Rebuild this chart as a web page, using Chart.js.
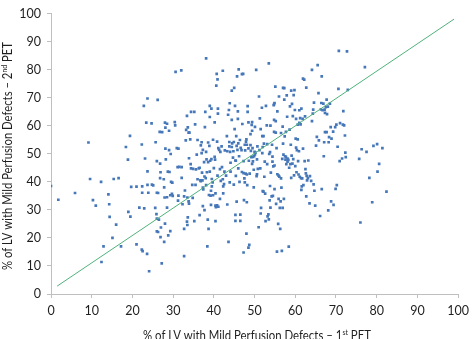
<!DOCTYPE html>
<html>
<head>
<meta charset="utf-8">
<script src="https://cdn.jsdelivr.net/npm/chart.js@4.4.1/dist/chart.umd.min.js"></script>
<style>
html,body{margin:0;padding:0;background:#fff;}
#wrap{width:474px;height:339px;position:relative;}
</style>
</head>
<body>
<div id="wrap"><canvas id="c" width="474" height="339"></canvas></div>
<script>
// % of LV with mild perfusion defects: [1st PET, 2nd PET]
const petPairs = [
[0,38.5],[1.8,33.6],[5.9,36],[9.2,54],[9.6,41],[10.3,33.5],[11,31.5],[12.3,40],[12.4,11.4],[12.9,17],
[14.1,35.5],[14.3,32],[14.4,27.5],[15.1,20],[15.4,41],[16,24.7],[16.6,41.3],[17.2,17],[18.4,52.4],[18.9,47.9],
[19,29.3],[19.4,56.4],[19.5,27.6],[19.7,38.2],[21,38.3],[21,17.7],[21.7,30.8],[22.3,15.8],[22.3,53.3],[22.4,38.4],
[22.4,36.1],[22.5,15.3],[22.8,67.1],[22.9,30.5],[23.1,48.3],[23.4,61.1],[23.6,14.3],[23.7,69.7],[23.7,43.7],[23.7,38.9],
[23.9,36.1],[24.1,8.1],[24.7,60.8],[24.8,39],[25.1,38.7],[25.6,30.7],[25.7,54.1],[25.9,28.5],[26,26.9],[26,22.3],
[26,47.4],[26,36.1],[26.2,69.2],[26.3,22.1],[26.3,36],[26.5,26.5],[26.8,41.3],[26.8,46.5],[26.7,57.8],[26.9,43.4],
[27,23.7],[27.2,10.9],[27.3,57.7],[26.9,20.3],[27.7,40.9],[27.8,38],[27.9,34.4],[27.8,18.6],[28,61.1],[28,25.1],
[28.1,51.8],[28.1,59.3],[28.2,48],[28.5,60.7],[28.5,34.5],[28.5,30.8],[28.8,20.9],[28.7,43.6],[29,58.2],[29,51.3],
[29.1,43.5],[29.3,35.2],[29.3,22.4],[29.4,49.9],[29.5,40],[29.7,35.7],[29.9,35],[29.8,39.7],[30.4,61.3],[30.5,60.1],
[30.6,79.2],[30.9,52],[31.1,45.2],[31.3,35.1],[31.3,51.8],[31.2,33.3],[31.5,45.3],[32,79.7],[32.1,45.2],[32.1,41.4],
[32.3,32],[32.7,13.5],[32.7,23.2],[32.7,34.8],[32.9,36.9],[33.1,54.8],[33.2,58.5],[33.4,63.5],[33.4,25.8],[33.5,24.6],
[33.5,34.4],[33.6,59.4],[33.6,27.3],[33.8,57.5],[33.8,33],[33.9,48.4],[33.9,32.2],[34,57.5],[34.2,55.1],[34.3,46.3],
[34.4,64.9],[34.4,44.8],[34.7,38.9],[34.8,34.3],[34.9,44.6],[35.2,64.9],[35.2,26],[35.4,60.5],[35.5,38.9],[35.6,44.4],
[35.8,49.7],[36,54.9],[36,40.9],[36.3,44.8],[36.5,45],[36.7,40.5],[36.5,28.1],[36.8,53],[36.8,40.2],[37,50.2],
[37,54.1],[37.1,43.3],[37.2,40.5],[37.3,51.4],[37.3,37.9],[37.3,31.3],[37.4,37.3],[37.6,47],[37.7,41.9],[37.7,29.9],
[37.8,59.5],[37.9,64.9],[38,41.3],[38.1,50.7],[38.1,84],[38.1,38.8],[38.2,48],[38.3,43.4],[38.4,17],[38.5,26.5],
[38.6,54],[38.6,47],[38.7,23.2],[38.8,35.3],[38.9,52.8],[39,63.1],[39,67.1],[39,43.6],[39.1,47.5],[39.2,35.1],
[39.3,36.8],[39.3,31.8],[39.4,66.1],[39.4,48.1],[39.5,41],[39.5,38.4],[39.7,39.8],[39.8,35.2],[39.8,55],[40,44.9],
[40.2,61.2],[40.2,48.9],[40.3,47.9],[40.4,35.9],[40.4,31.5],[40.4,26],[40.5,31],[40.6,74.3],[40.7,78.5],[40.8,54.3],
[40.8,31.6],[40.9,42.2],[40.9,76.5],[41,66.1],[41,64.3],[41.1,31.1],[41.1,52],[41.3,51.4],[41.5,33.9],[41.5,44.5],
[41.6,50.7],[41.7,40.3],[41.9,52.6],[42,45.2],[42.2,79.6],[42.2,40.9],[42.3,35.9],[42.3,38.4],[42.5,39.2],[42.6,43.6],
[42.7,51.2],[43,42.2],[43.2,56.3],[43.3,31.9],[43.3,50.9],[43.5,63.9],[43.6,18.6],[43.7,65.6],[43.8,54.2],[43.8,52.6],
[43.9,68],[43.9,39.8],[44,50.7],[44.1,43.6],[44.1,46.8],[44.4,72.5],[44.4,52.4],[44.4,62.1],[44.5,53.7],[44.7,48.6],
[44.8,50.9],[44.9,54.2],[44.9,39],[45,73.5],[45.1,58.8],[45.2,67.1],[45.3,47.6],[45.3,28.2],[45.3,26.1],[45.4,42.1],
[45.4,47.5],[45.5,56.3],[45.6,52.8],[45.6,32.9],[45.7,77.6],[45.8,51.4],[45.9,65.1],[45.9,62.4],[46,44.8],[46,53.7],
[46.1,80.1],[46.2,49.1],[46.3,40],[46.4,54.9],[46.5,28.3],[46.5,26.1],[46.6,52.1],[46.8,51.3],[46.9,78.4],[46.9,43.5],
[47,60.6],[47.2,78.5],[47.3,47.4],[47.3,43.1],[47.3,14.8],[47.4,33.5],[47.5,41.2],[47.6,53.2],[47.6,39.8],[47.7,51.2],
[47.8,42.9],[47.9,54.3],[48,55.1],[48,21.5],[48.1,42.6],[48.1,32.7],[48.1,53.2],[48.2,38.8],[48.3,67],[48.3,64.9],
[48.5,51.9],[48.5,16.5],[48.5,61.2],[48.6,47.5],[48.7,17.5],[48.8,42.9],[49,53.1],[49,57],[49.1,51],[49.2,48.8],
[49.3,60.3],[49.4,58.2],[49.4,61.3],[49.4,46.4],[49.5,52],[49.6,48.9],[49.6,47.3],[49.8,44.3],[49.8,38],[49.9,49.1],
[50,50.7],[50.1,49.8],[50.1,59.6],[50.2,50.4],[50.4,79.9],[50.5,42],[50.6,42.7],[50.6,48],[50.7,52.6],[50.8,44.6],
[51,23.8],[51.1,70.4],[51.2,51.3],[51.3,62.6],[51.4,44.8],[51.5,58.8],[51.5,28.7],[51.6,30.7],[51.8,66.4],[51.9,56.3],
[51.9,50.2],[52,52.4],[52,36.7],[52.2,56.3],[52.2,36.5],[52.3,53.6],[52.4,41.8],[52.5,47.2],[52.6,35.8],[52.7,26],
[52.8,67.1],[53,60.1],[53.1,53.4],[53.1,46.3],[53.2,27.7],[53.4,28.4],[53.5,82.2],[53.5,26.6],[53.6,49.9],[53.7,33.4],
[53.8,50.6],[53.8,38.5],[53.9,60],[53.9,30.8],[54,43.3],[54.2,34.8],[54.3,53.2],[54.4,49],[54.4,47.2],[54.5,35],
[54.6,45.5],[54.7,67.3],[54.8,62.1],[54.8,57.8],[54.8,67.7],[54.9,45.8],[54.9,68.1],[54.9,37.4],[55.1,73.9],[55.2,61.6],
[55.2,57.5],[55.3,32.1],[55.4,52],[55.5,15.1],[55.6,42.7],[55.6,65.1],[55.8,25],[55.9,42.2],[55.9,33.9],[56,70.4],
[56.1,41.8],[56.2,30.7],[56.3,23.2],[56.4,33],[56.5,41.2],[56.5,57.4],[56.6,37.9],[56.7,15.4],[56.8,48.2],[56.9,59.7],
[56.9,30.7],[57,73.5],[57,53.6],[57.1,49.7],[57.2,33.9],[57.3,73.4],[57.3,69.3],[57.4,56.2],[57.5,49.1],[57.6,47.9],
[57.7,57.8],[57.7,48.9],[57.8,46.3],[57.9,70.8],[58,63.2],[58.1,47.2],[58.1,48.3],[58.3,47.8],[58.4,16.9],[58.5,45],
[58.6,58.6],[58.7,66.9],[58.8,46.3],[58.9,53.2],[59,72.5],[59,41.4],[59.1,49.3],[59.2,67.8],[59.3,46.5],[59.4,63.4],
[59.5,48.1],[59.6,70.9],[59.7,42.3],[59.8,72.7],[59.9,65.6],[60,45.6],[60.1,55.4],[60.2,52.2],[60.2,62.4],[60.3,43.4],
[60.4,51.3],[60.6,55.1],[60.6,60.4],[60.7,47.4],[60.8,42.6],[60.9,50.9],[61,61],[61,65.5],[61.1,41.8],[61.2,62.7],
[61.3,60.5],[61.4,41.3],[61.5,66.1],[61.5,37.1],[61.6,38.4],[61.7,41.2],[61.8,62.4],[61.9,76.8],[61.9,51.8],[62,38.8],
[62.2,76.4],[62.3,47.4],[62.4,63.3],[62.5,44.5],[62.6,43],[62.7,34.8],[62.7,73.6],[62.8,42.1],[62.9,40.5],[63.1,41.3],
[63.2,47.6],[63.5,32.3],[63.6,42],[63.9,40.3],[64.1,79.9],[64.1,61.6],[64.3,64.3],[64.4,65.7],[64.5,39.1],[64.6,68.2],
[64.7,36.8],[64.9,31.5],[65.1,52.9],[65.3,56],[65.5,81.6],[65.7,71.6],[65.8,54.8],[66.1,27.8],[66.3,65.8],[66.4,68.1],
[66.5,77.6],[66.5,37.4],[66.7,65.5],[66.9,67.9],[67,49.1],[67.1,54.1],[67.2,65.7],[67.3,57.7],[67.3,64.6],[67.5,66.6],
[67.7,69.3],[67.7,57.7],[67.8,64.1],[68,66.8],[68.1,29.8],[68.2,54.1],[68.3,55.9],[68.5,67.9],[68.7,59.5],[68.8,33],
[68.9,55.4],[69.3,57.9],[69.4,31.8],[69.8,59.5],[69.9,37.5],[70.1,60.4],[70.2,38.8],[70.4,52.5],[70.6,73.1],[70.7,86.7],
[70.9,47.4],[71,60.9],[71.5,48.3],[71.7,60.4],[71.8,65.2],[72,60.1],[72.2,56.5],[72.3,50.4],[72.4,48.8],[72.7,86.5],
[72.9,72.8],[75.7,48.2],[76,25.5],[76.3,51.6],[77.1,80.9],[77.5,50.7],[78.2,41.4],[78.9,32.7],[79.2,52.8],[80.1,53.4],
[80.2,43.6],[80.6,46.4],[81.4,52],[82.4,36.5]
];
// Reference line (end points, % LV)
const lineX = [1.5, 99];
const lineY = [2.8, 98];
// Axis ticks
const xTicks = [0,10,20,30,40,50,60,70,80,90,100];
const yTicks = [0,10,20,30,40,50,60,70,80,90,100];
const xTitle = ['% of LV with Mild Perfusion Defects \u2013 1', 'st', ' PET'];
const yTitle = ['% of LV with Mild Perfusion Defects \u2013 2', 'nd', ' PET'];

const FONT = 'Lato, "Open Sans", sans-serif';
const AXIS_COLOR = '#bfbfbf';
const TEXT_COLOR = '#1f1f1f';

function drawSupTitle(ctx, parts, cx, cy, size, targetWidth) {
  const f = size + 'px ' + FONT;
  const fs = Math.round(size * 0.65) + 'px ' + FONT;
  ctx.font = f; const w0 = ctx.measureText(parts[0]).width;
  ctx.font = fs; const w1 = ctx.measureText(parts[1]).width;
  ctx.font = f; const w2 = ctx.measureText(parts[2]).width;
  const total = w0 + w1 + w2;
  const k = Math.min(1, targetWidth / total);
  ctx.save();
  ctx.translate(cx, cy);
  ctx.scale(k, 1);
  let x = -total / 2;
  ctx.fillStyle = TEXT_COLOR;
  ctx.textBaseline = 'alphabetic';
  ctx.textAlign = 'left';
  const base = size * 0.35;
  ctx.font = f; ctx.fillText(parts[0], x, base); x += w0;
  ctx.font = fs; ctx.fillText(parts[1], x, base - size * 0.38); x += w1;
  ctx.font = f; ctx.fillText(parts[2], x, base);
  ctx.restore();
}

const titlesPlugin = {
  id: 'titles',
  afterDraw(chart) {
    const ctx = chart.ctx;
    ctx.save();
    drawSupTitle(ctx, xTitle, 257, 335.5, 13, 228);
    ctx.translate(7.5, 156);
    ctx.rotate(-Math.PI / 2);
    drawSupTitle(ctx, yTitle, 0, 0, 13, 228);
    ctx.restore();
  }
};

new Chart(document.getElementById('c'), {
  type: 'scatter',
  data: {
    datasets: [
      {
        label: 'PET',
        data: petPairs.map(p => ({x: p[0], y: p[1]})),
        pointStyle: 'rect',
        pointRadius: 1.9,
        pointBackgroundColor: '#4677b8',
        pointBorderWidth: 0,
        order: 2
      },
      {
        label: 'Line',
        type: 'line',
        data: lineX.map((x, i) => ({x: x, y: lineY[i]})),
        borderColor: '#4fb27a',
        borderWidth: 1,
        pointRadius: 0,
        fill: false,
        order: 1
      }
    ]
  },
  options: {
    responsive: false,
    animation: false,
    devicePixelRatio: 1,
    layout: { autoPadding: false, padding: { top: 4.3, right: 9.7, left: 0, bottom: 0 } },
    plugins: { legend: { display: false }, tooltip: { enabled: false } },
    scales: {
      x: {
        type: 'linear', min: 0, max: 100,
        afterFit(s) { s.height = 45; },
        afterBuildTicks(s) { s.ticks = xTicks.map(v => ({value: v})); },
        border: { color: AXIS_COLOR, width: 1 },
        grid: { drawOnChartArea: false, drawTicks: true, tickLength: 4, color: AXIS_COLOR },
        ticks: { font: { family: FONT, size: 12.5 }, color: TEXT_COLOR, padding: 5, maxRotation: 0, autoSkip: false }
      },
      y: {
        type: 'linear', min: 0, max: 100,
        afterFit(s) { s.width = 51; },
        afterBuildTicks(s) { s.ticks = yTicks.map(v => ({value: v})); },
        border: { color: AXIS_COLOR, width: 1 },
        grid: { drawOnChartArea: false, drawTicks: true, tickLength: 4, color: AXIS_COLOR },
        ticks: { font: { family: FONT, size: 12.5 }, color: TEXT_COLOR, padding: 6, autoSkip: false }
      }
    }
  },
  plugins: [titlesPlugin]
});
</script>
</body>
</html>
